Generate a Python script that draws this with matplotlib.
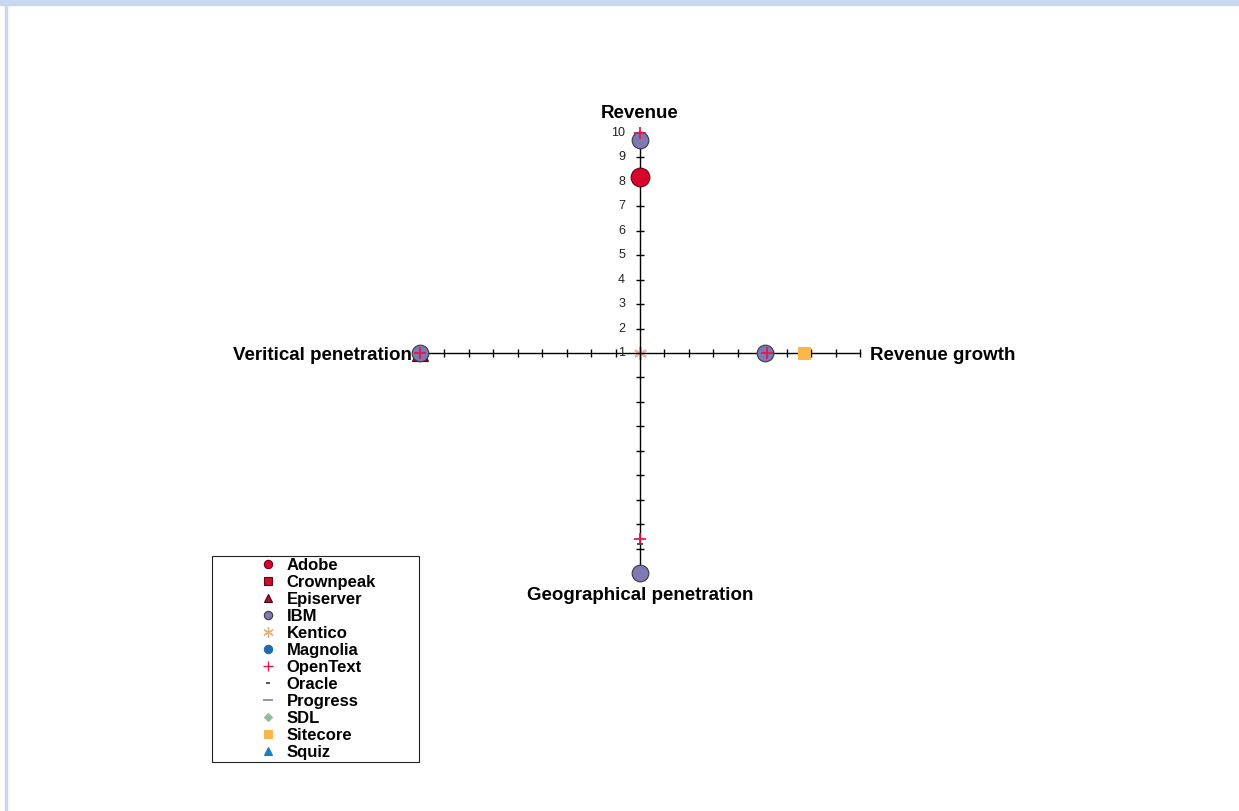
import matplotlib.pyplot as plt
import numpy as np
from matplotlib.patches import Rectangle

plt.rcParams['font.family'] = ['Liberation Sans', 'DejaVu Sans']

# axes of the radar, clockwise from the top
spokes = ['Revenue', 'Revenue growth', 'Geographical penetration', 'Veritical penetration']
scale = [1, 2, 3, 4, 5, 6, 7, 8, 9, 10]

nan = np.nan
vendors = ['Adobe', 'Crownpeak', 'Episerver', 'IBM', 'Kentico', 'Magnolia',
           'OpenText', 'Oracle', 'Progress', 'SDL', 'Sitecore', 'Squiz']
adobe = [8.2, nan, nan, nan]
crownpeak = [nan, nan, nan, nan]
episerver = [nan, nan, nan, 10]
ibm = [9.7, 6.1, 10, 10]
kentico = [1, 1, 1, 1]
magnolia = [nan, nan, nan, nan]
opentext = [10, 6.2, 8.6, 10]
oracle = [nan, nan, 8.8, nan]
progress = [nan, nan, nan, nan]
sdl = [nan, nan, nan, nan]
sitecore = [nan, 7.7, nan, nan]
squiz = [nan, nan, nan, nan]
values = [adobe, crownpeak, episerver, ibm, kentico, magnolia,
          opentext, oracle, progress, sdl, sitecore, squiz]

# marker, face colour, edge colour, size on chart
styles = [('o', '#D9042E', '#6a0015', 13.5), ('s', '#C8102E', '#6a0015', 9),
          ('^', '#B0112D', '#4a0010', 12), ('o', '#7E78B4', '#3a3a3a', 12),
          ((6, 2, 0), '#EDB5A0', None, 9), ('o', '#1F6BB0', '#1F6BB0', 9),
          ('+', '#E3194C', None, 9), ('_', '#444444', None, 4),
          ('_', '#8C86BE', None, 8), ('D', '#8FBC9C', '#8FBC9C', 7),
          ('s', '#F9B64B', '#F9B64B', 8.5), ('^', '#1B7DC4', '#1B7DC4', 9)]
legend_colors = {'Kentico': '#E2B27E'}

fig = plt.figure(figsize=(12.39, 8.11), dpi=100)
fig.patches.append(Rectangle((0, 1 - 5 / 811), 1, 5 / 811, transform=fig.transFigure,
                             color='#C6D9F1', zorder=0))
fig.patches.append(Rectangle((5 / 1239, 0), 2 / 1239, 1, transform=fig.transFigure,
                             color='#C6D9F1', zorder=0))

ax = fig.add_axes([420 / 1239, 238 / 811, 440 / 1239, 440 / 811], projection='polar')
ax.set_theta_zero_location('N')
ax.set_theta_direction(-1)
ax.set_ylim(scale[0], scale[-1])
ax.set_xticks([])
ax.set_yticks([])
ax.grid(False)
ax.spines['polar'].set_visible(False)
ax.patch.set_alpha(0)

theta = np.arange(len(spokes)) * 2 * np.pi / len(spokes)
for i, th in enumerate(theta):
    ax.plot([th, th], [scale[0], scale[-1]], color='black', lw=1, clip_on=False, zorder=2)
    mk = '_' if i % 2 == 0 else '|'
    ax.plot([th] * (len(scale) - 1), scale[1:], ls='none', marker=mk, ms=5.5, mew=1,
            color='black', clip_on=False, zorder=2)

for v in scale:
    ax.annotate(str(v), (0, v), xytext=(-15, 0), textcoords='offset pixels',
                ha='right', va='center', fontsize=9, color='#222222')

offsets = [((0, 19), 'center', 'center'), ((10, -2), 'left', 'center'),
           ((0, -22), 'center', 'center'), ((-8, -2), 'right', 'center')]
for th, name, (off, ha, va) in zip(theta, spokes, offsets):
    ax.annotate(name, (th, scale[-1]), xytext=off, textcoords='offset pixels',
                ha=ha, va=va, fontsize=13.5, fontweight='bold')

handles = []
for name, vals, (mk, col, ec, ms) in zip(vendors, values, styles):
    z = 1 if name == 'Kentico' else 3
    h, = ax.plot(theta, vals, ls='none', marker=mk, ms=ms, color=col,
                 markerfacecolor=col, markeredgecolor=ec or col,
                 mew=1.3 if ec is None else 0.8, clip_on=False, zorder=z,
                 label=name)
    handles.append(h)

leg = fig.legend(handles=handles, loc='upper left',
                 bbox_to_anchor=(212 / 1239, 50 / 811, 207 / 1239, 205 / 811),
                 mode='expand', borderaxespad=0, borderpad=0.1, numpoints=1,
                 handlelength=6.5, handletextpad=-2.11, labelspacing=0.122,
                 prop={'size': 12, 'weight': 'bold'}, fancybox=False,
                 edgecolor='#222222', framealpha=1)
leg.get_frame().set_linewidth(0.8)
for lh, name, (mk, col, ec, ms) in zip(leg.legend_handles, vendors, styles):
    if name in legend_colors:
        lh.set_color(legend_colors[name])
        lh.set_markeredgecolor(legend_colors[name])
    if name == 'Oracle':
        lh.set_markersize(3)
    elif name == 'Progress':
        lh.set_markersize(7)
    elif name == 'SDL':
        lh.set_markersize(4.5)
    elif name in ('Kentico', 'OpenText'):
        lh.set_markersize(7.5)
        lh.set_markeredgewidth(1)
    else:
        lh.set_markersize(6)

fig.savefig('out.png', dpi=100)
